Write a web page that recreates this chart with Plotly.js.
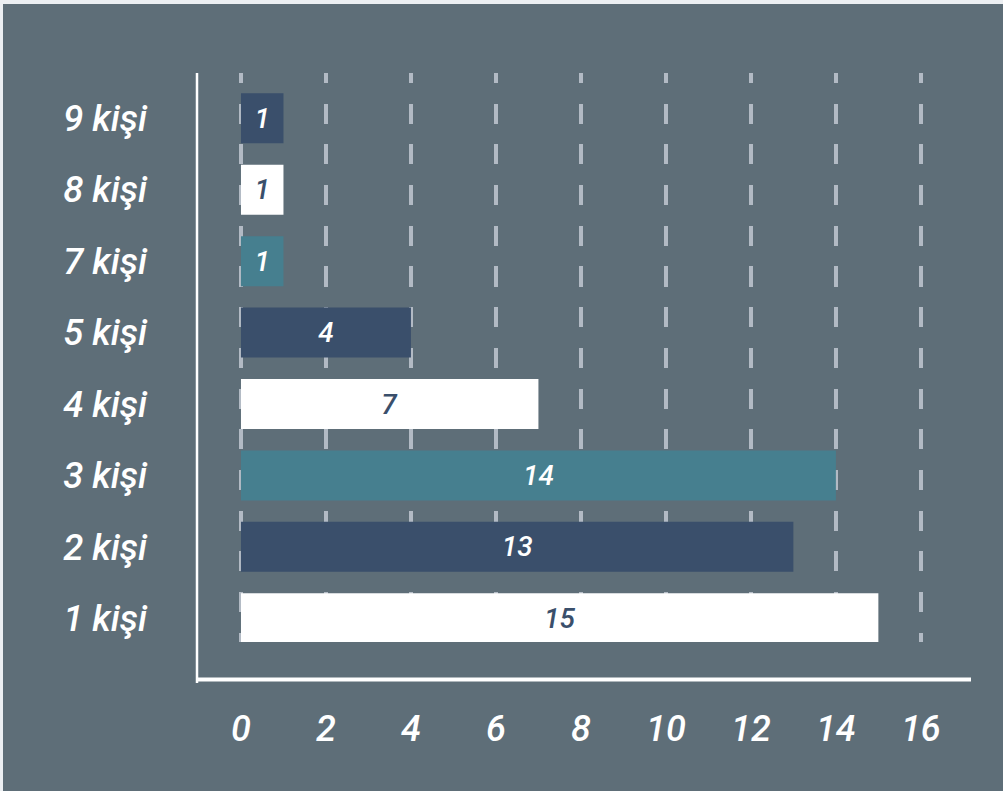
<!DOCTYPE html>
<html>
<head>
<meta charset="utf-8">
<script src="https://cdn.plot.ly/plotly-3.0.1.min.js"></script>
<style>
  html, body { margin: 0; padding: 0; background: #eceff2; }
  #chart { position: absolute; left: 3px; top: 4px; width: 1000px; height: 787px; }
</style>
</head>
<body>
<div id="chart"></div>
<script>
// people per household, bottom to top
const categories = ['1 kişi', '2 kişi', '3 kişi', '4 kişi', '5 kişi', '7 kişi', '8 kişi', '9 kişi'];
const counts = [15, 13, 14, 7, 4, 1, 1, 1];
const xTicks = [0, 2, 4, 6, 8, 10, 12, 14, 16];

const WHITE = '#ffffff';
const NAVY = '#3a4f6b';
const TEAL = '#467f8f';
const barColors = [WHITE, NAVY, TEAL, WHITE, NAVY, TEAL, WHITE, NAVY];
const labelColors = barColors.map(c => (c === WHITE ? NAVY : WHITE));

// dashed grid: half dash at each end, full dashes in between
let gridDash = ['10px'];
for (let i = 0; i < 13; i++) gridDash.push('20.6px', '20.1px');
gridDash.push('20.6px', '10px', '40px');
gridDash = gridDash.join(',');

const trace = {
  type: 'bar',
  orientation: 'h',
  y: categories,
  x: counts,
  marker: { color: barColors, line: { width: 0 } },
  text: counts.map(String),
  textposition: 'inside',
  insidetextanchor: 'middle',
  constraintext: 'none',
  textfont: { family: 'Roboto', size: 28, style: 'italic', weight: 500, color: labelColors },
  hoverinfo: 'none'
};

const layout = {
  width: 1000,
  height: 787,
  paper_bgcolor: '#5e6e78',
  plot_bgcolor: 'rgba(0,0,0,0)',
  margin: { l: 194, r: 32, t: 69, b: 149 },
  bargap: 0.3,
  showlegend: false,
  font: { family: 'Roboto', color: '#ffffff' },
  xaxis: {
    range: [-1.035, 17.18],
    tickvals: xTicks,
    ticktext: xTicks.map(String),
    ticks: '',
    showline: false,
    zeroline: false,
    showgrid: true,
    gridcolor: '#b2bac4',
    gridwidth: 4.5,
    griddash: gridDash,
    ticklabelstandoff: 62,
    tickfont: { family: 'Roboto', size: 36, style: 'italic', weight: 500, color: '#ffffff' }
  },
  yaxis: {
    type: 'category',
    range: [-0.332, 7.634],
    ticks: '',
    showline: false,
    zeroline: false,
    showgrid: false,
    ticklabelstandoff: 49,
    tickfont: { family: 'Roboto', size: 36.5, style: 'italic', weight: 500, color: '#ffffff' }
  },
  shapes: [
    // left axis line
    { type: 'line', xref: 'paper', yref: 'paper', x0: 0, x1: 0, y0: -0.072, y1: 1,
      line: { color: '#ffffff', width: 2.5 } },
    // bottom axis line
    { type: 'line', xref: 'paper', yref: 'paper', x0: 0, x1: 1, y0: -0.066, y1: -0.066,
      line: { color: '#ffffff', width: 4 } }
  ]
};

Plotly.newPlot('chart', [trace], layout, { displayModeBar: false, staticPlot: true });
</script>
</body>
</html>
